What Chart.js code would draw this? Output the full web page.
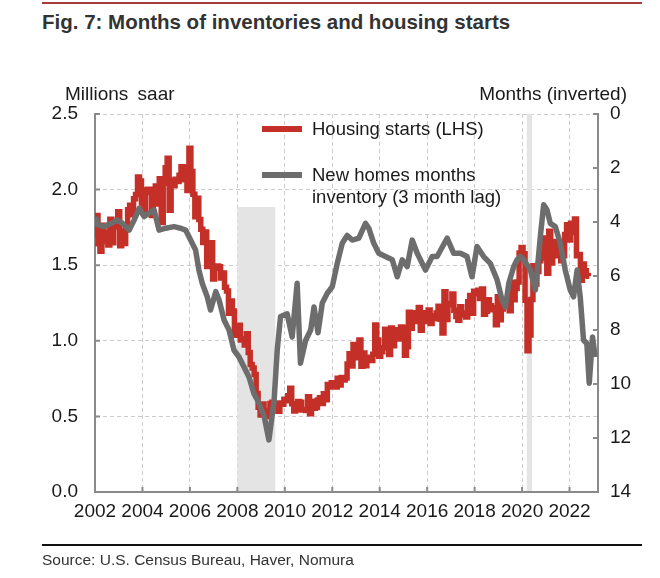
<!DOCTYPE html>
<html><head><meta charset="utf-8">
<script src="https://cdn.jsdelivr.net/npm/chart.js@4"></script>
<style>
html,body{margin:0;padding:0;background:#fff;}
#wrap{position:relative;width:660px;height:578px;overflow:hidden;font-family:'Liberation Sans',Arial,sans-serif;color:#1a1a1a;}
#topline{position:absolute;left:42px;top:2px;width:600px;height:2px;background:#a83a3a;}
#title{position:absolute;left:42px;top:10px;font-size:20.5px;font-weight:bold;line-height:24px;color:#333;white-space:nowrap;}
.unit{position:absolute;top:83px;font-size:19px;line-height:22px;white-space:nowrap;}
#c{position:absolute;left:0;top:0;}
.sw{position:absolute;left:262px;width:40px;height:6px;}
.lt{position:absolute;left:312px;font-size:18.5px;line-height:22px;white-space:nowrap;}
#srcline{position:absolute;left:42px;top:544px;width:600px;height:2px;background:#111;}
#src{position:absolute;left:42px;top:551px;font-size:15.5px;line-height:18px;color:#333;white-space:nowrap;}
</style></head>
<body><div id="wrap">
<div id="topline"></div>
<div id="title">Fig. 7: Months of inventories and housing starts</div>
<canvas id="c" width="660" height="578"></canvas>
<div class="unit" style="left:65px;word-spacing:4px">Millions saar</div>
<div class="unit" style="right:33px;text-align:right">Months (inverted)</div>
<div class="sw" style="top:126px;background:#c43028"></div>
<div class="lt" style="top:118px">Housing starts (LHS)</div>
<div class="sw" style="top:172px;background:#6d6d6d"></div>
<div class="lt" style="top:164px">New homes months<br>inventory (3 month lag)</div>
<div id="srcline"></div>
<div id="src">Source: U.S. Census Bureau, Haver, Nomura</div>
</div>
<script>
// Housing starts, millions saar, monthly from Jan 2002
const startsFirstYear = 2002;
const startsValues = [
1.698,1.829,1.642,1.592,1.764,1.717,1.655,1.633,1.804,1.648,1.753,1.788,
1.853,1.629,1.726,1.643,1.751,1.867,1.897,1.833,1.939,1.967,2.083,2.057,
1.911,1.846,1.998,2.003,1.981,1.828,2.002,2.024,1.905,2.072,1.782,2.042,
2.144,2.207,1.864,2.061,2.025,2.068,2.054,2.095,2.151,2.065,2.147,1.994,
2.273,2.119,1.969,1.821,1.942,1.802,1.737,1.650,1.720,1.491,1.570,1.649,
1.409,1.480,1.495,1.490,1.415,1.448,1.354,1.330,1.183,1.264,1.197,1.037,
1.084,1.103,1.005,1.013,0.973,1.046,0.923,0.844,0.820,0.777,0.652,0.560,
0.510,0.582,0.515,0.500,0.540,0.585,0.594,0.586,0.585,0.534,0.588,0.581,
0.614,0.604,0.636,0.687,0.583,0.536,0.546,0.599,0.594,0.543,0.545,0.539,
0.630,0.517,0.600,0.554,0.561,0.608,0.623,0.585,0.650,0.610,0.711,0.694,
0.723,0.704,0.695,0.753,0.708,0.757,0.740,0.754,0.847,0.915,0.833,0.976,
0.888,0.962,1.005,0.831,0.919,0.835,0.891,0.883,0.870,0.911,1.105,1.005,
0.897,0.928,0.954,1.077,1.000,0.910,1.085,0.968,1.024,1.073,1.012,1.091,
1.088,0.905,0.961,1.188,1.083,1.180,1.185,1.127,1.221,1.070,1.186,1.167,
1.128,1.203,1.115,1.164,1.146,1.184,1.229,1.142,1.052,1.325,1.141,1.246,
1.238,1.309,1.202,1.161,1.136,1.225,1.184,1.172,1.158,1.258,1.300,1.183,
1.327,1.311,1.335,1.279,1.343,1.175,1.196,1.271,1.232,1.206,1.221,1.106,
1.291,1.140,1.211,1.270,1.271,1.231,1.198,1.387,1.272,1.346,1.389,1.580,
1.617,1.575,1.269,0.934,1.038,1.273,1.497,1.376,1.459,1.530,1.547,1.680,
1.625,1.447,1.725,1.514,1.594,1.657,1.562,1.580,1.530,1.563,1.703,1.768,
1.666,1.777,1.716,1.805,1.562,1.571,1.400,1.508,1.463,1.432,1.427
];
// New homes months' supply (3-month lag), plotted dates (decimal years) and months
const invDates = [
2002.03,2002.1,2002.39,2002.67,2002.95,2003.16,2003.44,2003.65,2003.86,2004.07,
2004.28,2004.49,2004.7,2004.98,2005.33,2005.61,2005.82,2006.03,2006.24,2006.38,
2006.52,2006.73,2006.87,2007.09,2007.23,2007.44,2007.65,2007.86,2008.07,2008.28,
2008.49,2008.7,2008.91,2009.13,2009.33,2009.55,2009.68,2009.82,2010.1,2010.31,
2010.52,2010.66,2010.88,2011.09,2011.23,2011.4,2011.58,2011.79,2012.0,2012.21,
2012.42,2012.63,2012.84,2013.12,2013.4,2013.54,2013.75,2013.96,2014.24,2014.53,
2014.74,2014.95,2015.16,2015.37,2015.58,2015.93,2016.21,2016.42,2016.84,2017.12,
2017.4,2017.68,2017.89,2018.1,2018.38,2018.66,2018.95,2019.16,2019.3,2019.44,
2019.65,2019.79,2019.93,2020.07,2020.35,2020.56,2020.77,2020.91,2021.05,2021.19,
2021.4,2021.61,2021.82,2022.03,2022.17,2022.32,2022.45,2022.59,2022.73,2022.83,
2022.97,2023.08
];
const invMonths = [
3.8,4.1,4.17,4.05,3.93,4.05,4.3,3.93,3.49,3.8,
3.67,3.55,4.3,4.23,4.17,4.23,4.3,4.67,5.04,5.78,
6.27,6.77,7.26,6.58,6.89,7.63,8.0,8.75,9.0,9.37,
9.74,10.36,10.7,11.2,12.07,10.6,8.75,7.5,7.4,8.26,
6.27,9.23,8.38,8.0,7.15,8.1,7.0,6.64,6.4,5.53,
4.79,4.5,4.67,4.6,4.05,4.23,4.79,5.16,5.28,5.4,
6.03,5.4,5.65,4.67,5.16,5.78,5.28,5.28,4.6,5.16,
5.16,5.28,6.03,4.91,5.28,5.53,6.15,6.9,7.15,6.27,
5.65,5.4,5.28,5.4,5.78,6.52,4.54,3.36,3.55,4.05,
4.17,4.79,5.78,6.52,6.77,5.78,6.77,8.37,8.5,9.97,
8.26,9.0
];
// Recession shading (decimal years) and shading top (LHS value)
const shadeStart = [2008.0, 2020.2];
const shadeEnd = [2009.6, 2020.42];
const shadeTop = [1.885, 2.5];
// Axis ticks
const leftMin = 0, leftMax = 2.5, leftStep = 0.5;
const rightMin = 0, rightMax = 14, rightStep = 2;
const xMin = 2002, xMax = 2023.2, xStep = 2;

const startsData = startsValues.map((v,i)=>({x: startsFirstYear + i/12, y: v}));
const invData = invDates.map((d,i)=>({x: d, y: invMonths[i]}));

const axisGray = '#8a8a8a';
const gridCol = '#cccccc';
const font = {family:"'Liberation Sans', Arial, sans-serif", size:19};

const decor = {
  id:'decor',
  beforeDatasetsDraw(chart){
    const {ctx, chartArea:a, scales:{x, y}} = chart;
    ctx.save();
    ctx.fillStyle = '#e4e4e4';
    for (let i=0;i<shadeStart.length;i++){
      const x0 = x.getPixelForValue(shadeStart[i]);
      const x1 = x.getPixelForValue(shadeEnd[i]);
      const yt = y.getPixelForValue(shadeTop[i]);
      ctx.fillRect(x0, yt, x1-x0, a.bottom-1-yt);
    }
    ctx.restore();
  },
  afterDraw(chart){
    const {ctx, chartArea:a, scales:{x, y, y2}} = chart;
    ctx.save();
    ctx.strokeStyle = axisGray; ctx.lineWidth = 2;
    const L = 5;
    ctx.beginPath();
    y.ticks.forEach(t=>{const p=y.getPixelForValue(t.value); ctx.moveTo(a.left,p); ctx.lineTo(a.left+L,p);});
    y2.ticks.forEach(t=>{const p=y2.getPixelForValue(t.value); ctx.moveTo(a.right-L,p); ctx.lineTo(a.right,p);});
    x.ticks.forEach(t=>{const p=x.getPixelForValue(t.value); ctx.moveTo(p,a.bottom); ctx.lineTo(p,a.bottom-L);});
    ctx.stroke();
    ctx.restore();
  }
};

new Chart(document.getElementById('c'), {
  type:'line',
  data:{datasets:[
    {label:'New homes months inventory (3 month lag)', data:invData, yAxisID:'y2', borderColor:'#6d6d6d', borderWidth:5.5, pointRadius:0, tension:0, order:0, borderJoinStyle:'round', borderCapStyle:'butt'},
    {label:'Housing starts (LHS)', data:startsData, yAxisID:'y', borderColor:'#c43028', borderWidth:5.5, pointRadius:0, stepped:'middle', order:1, borderJoinStyle:'miter'}
  ]},
  options:{
    responsive:false, animation:false, devicePixelRatio:1,
    layout:{padding:{top:114,left:0,right:0,bottom:0}},
    plugins:{legend:{display:false}, tooltip:{enabled:false}},
    scales:{
      x:{type:'linear', min:xMin, max:xMax,
         afterFit(s){s.height=86;},
         grid:{color:gridCol, lineWidth:1, drawTicks:false},
         border:{color:axisGray, width:2, dash:[4,3]},
         ticks:{stepSize:xStep, includeBounds:false, autoSkip:false, maxRotation:0, padding:8, color:'#1a1a1a', font, callback:v=>String(v)}
      },
      y:{position:'left', min:leftMin, max:leftMax,
         afterFit(s){s.width=95;},
         grid:{color:gridCol, lineWidth:1, drawTicks:false},
         border:{color:axisGray, width:2, dash:[4,3]},
         ticks:{stepSize:leftStep, padding:17, color:'#1a1a1a', font, callback:v=>Number(v).toFixed(1)}
      },
      y2:{position:'right', min:rightMin, max:rightMax, reverse:true,
         afterFit(s){s.width=62;},
         grid:{display:false, drawTicks:false},
         border:{color:axisGray, width:2},
         ticks:{stepSize:rightStep, padding:12, color:'#1a1a1a', font, callback:v=>String(v)}
      }
    }
  },
  plugins:[decor]
});
</script>
</body></html>
